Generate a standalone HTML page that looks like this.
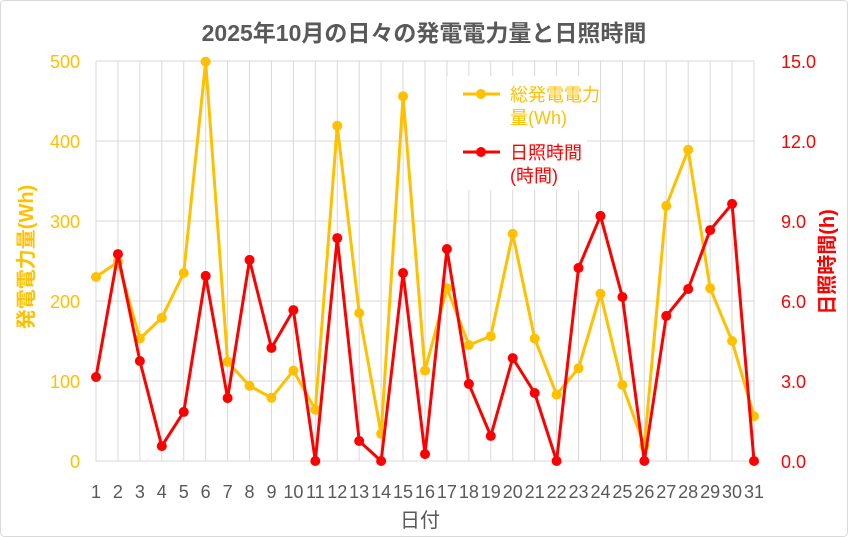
<!DOCTYPE html>
<html><head><meta charset="utf-8"><style>
body{margin:0;background:#fff;}
svg{display:block;font-family:"Liberation Sans","Noto Sans CJK JP",sans-serif;}
</style></head><body>
<svg id="chart" width="848" height="537">
<rect x="0.5" y="0.5" width="847" height="536" rx="4" fill="#fff" stroke="#d9d9d9"/>
<text x="424" y="41" text-anchor="middle" font-size="23" font-weight="bold" fill="#595959">2025年10月の日々の発電電力量と日照時間</text>
<g id="grid"></g><g id="axes"></g><g id="series"></g>
<text transform="translate(33,257) rotate(-90)" text-anchor="middle" font-size="20" fill="#FFC000" font-weight="bold">発電電力量(Wh)</text>
<text transform="translate(834,262) rotate(-90)" text-anchor="middle" font-size="20" fill="#FF0000" font-weight="bold">日照時間(h)</text>
<text x="420" y="527" text-anchor="middle" font-size="20" fill="#595959">日付</text>
<g>
<rect x="447" y="76" width="140" height="114" fill="#fff"/>
<g>
<line x1="463" y1="94" x2="500" y2="94" stroke="#FFC000" stroke-width="3"/><circle cx="481" cy="94" r="5" fill="#FFC000"/>
<text x="510" y="101" font-size="18" fill="#FFC000">総発電電力</text><text x="510" y="124" font-size="18" fill="#FFC000">量(Wh)</text></g>
<g>
<line x1="463" y1="152" x2="500" y2="152" stroke="#FF0000" stroke-width="3"/><circle cx="481" cy="152" r="5" fill="#FF0000"/>
<text x="510" y="159" font-size="18" fill="#FF0000">日照時間</text><text x="510" y="182" font-size="18" fill="#FF0000">(時間)</text></g>
</g>
</svg>
<script>
const days=[1,2,3,4,5,6,7,8,9,10,11,12,13,14,15,16,17,18,19,20,21,22,23,24,25,26,27,28,29,30,31];
const power=[230,249,153,179,235,499,124,94,79,113,64,419,185,34,456,113,216,145,156,284,153,83,116,209,95,19,319,389,216,150,56];
const sunshine=[3.15,7.76,3.75,0.56,1.84,6.94,2.36,7.54,4.24,5.66,0,8.36,0.75,0,7.05,0.26,7.95,2.89,0.94,3.86,2.55,0,7.24,9.19,6.15,0,5.44,6.45,8.66,9.64,0];
const leftTicks=[0,100,200,300,400,500];
const rightTicks=["0.0","3.0","6.0","9.0","12.0","15.0"];
const NS="http://www.w3.org/2000/svg";
const X0=96,X1=754,Y0=461,Y1=61;
const x=i=>X0+(X1-X0)*i/(days.length-1);
const yL=v=>Y0-(Y0-Y1)*v/500;
const yR=v=>Y0-(Y0-Y1)*v/15;
function mk(t,a,p){const e=document.createElementNS(NS,t);for(const k in a)e.setAttribute(k,a[k]);p.appendChild(e);return e;}
const grid=document.getElementById('grid'),axes=document.getElementById('axes'),ser=document.getElementById('series');
leftTicks.forEach((v,i)=>{
 const l=mk('line',{x1:X0,x2:X1,y1:yL(v),y2:yL(v),stroke:'#d9d9d9'},grid);
 
 
 const t=mk('text',{x:80,y:yL(v)+7,'text-anchor':'end','font-size':18,fill:'#FFC000'},axes);t.textContent=v;
 
 
 const r=mk('text',{x:781,y:yR(+rightTicks[i])+7,'font-size':18,fill:'#FF0000'},axes);r.textContent=rightTicks[i];
 
 
});
days.forEach((d,i)=>{
 const l=mk('line',{x1:x(i),x2:x(i),y1:Y1,y2:Y0,stroke:'#d9d9d9'},grid);
 
 
 const t=mk('text',{x:x(i),y:Y0+37,'text-anchor':'middle','font-size':18,fill:'#595959'},axes);t.textContent=d;
 
 
});
function series(vals,yf,col,name){
 const pl=mk('polyline',{points:vals.map((v,i)=>x(i)+','+yf(v)).join(' '),fill:'none',stroke:col,'stroke-width':3,'stroke-linejoin':'round'},ser);
 
 
 vals.forEach((v,i)=>{const c=mk('circle',{cx:x(i),cy:yf(v),r:5,fill:col},ser);
 
 });
}
series(power,yL,'#FFC000','power');
series(sunshine,yR,'#FF0000','sunshine');
</script>
</body></html>
